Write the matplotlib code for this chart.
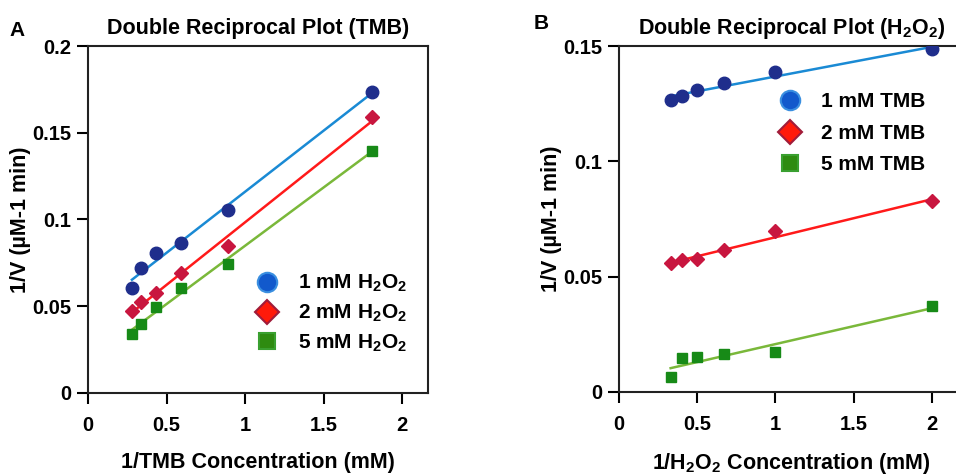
import numpy as np
import matplotlib
matplotlib.use("Agg")
import matplotlib.pyplot as plt
from matplotlib.lines import Line2D

plt.rcParams['font.family'] = ['Liberation Sans', 'DejaVu Sans']
plt.rcParams['font.weight'] = 'bold'
plt.rcParams['mathtext.fontset'] = 'custom'
plt.rcParams['mathtext.rm'] = 'Liberation Sans:bold'
plt.rcParams['mathtext.it'] = 'Liberation Sans:bold'
plt.rcParams['mathtext.bf'] = 'Liberation Sans:bold'
plt.rcParams['mathtext.default'] = 'rm'

#panel A data: 1/[TMB] vs 1/V
x_tmb = [0.28, 0.34, 0.43, 0.59, 0.89, 1.81]
a_h2o2_1 = [0.0607, 0.0719, 0.0805, 0.0866, 0.1055, 0.1737]
a_h2o2_2 = [0.0473, 0.0523, 0.0578, 0.0693, 0.0847, 0.1589]
a_h2o2_5 = [0.0338, 0.0396, 0.0497, 0.0603, 0.0742, 0.1397]
labels_a = ["1 mM H$_2$O$_2$", "2 mM H$_2$O$_2$", "5 mM H$_2$O$_2$"]

#panel B data: 1/[H2O2] vs 1/V
x_h2o2 = [0.33, 0.40, 0.50, 0.67, 1.00, 2.00]
b_tmb_1 = [0.1264, 0.1283, 0.1308, 0.1339, 0.1387, 0.1486]
b_tmb_2 = [0.0559, 0.0571, 0.0575, 0.0614, 0.0697, 0.0827]
b_tmb_5 = [0.0065, 0.0145, 0.0152, 0.0166, 0.0173, 0.0371]
labels_b = ["1 mM TMB", "2 mM TMB", "5 mM TMB"]

markers = ['o', 'D', 's']
msizes = [9, 7.5, 7.5]
point_colors = ['#1f2e8c', '#c8163f', '#178a17']
line_colors = ['#1a8ad4', '#ff1a1a', '#7ab83a']
leg_face = ['#1259cc', '#ff1a0a', '#2e8b10']
leg_edge = ['#3a8fe0', '#a01c3a', '#3aa030']


def draw_panel(ax, x, ys, labels, leg_anchor, spacing):
    for i, y in enumerate(ys):
        k, b = np.polyfit(x, y, 1)
        xx = np.array([min(x), max(x)])
        ax.plot(xx, k * xx + b, color=line_colors[i], lw=1.8, zorder=2)
        ax.plot(x, y, ls='none', marker=markers[i], ms=msizes[i],
                color=point_colors[i], mec=point_colors[i], zorder=3)
    handles = [Line2D([], [], ls='none', marker=markers[i],
                      ms=[14, 12, 11][i], mfc=leg_face[i], mec=leg_edge[i], mew=1.5)
               for i in range(3)]
    ax.legend(handles, labels, loc='upper left', bbox_to_anchor=leg_anchor,
              frameon=False, fontsize=15, handletextpad=0.9, labelspacing=spacing,
              borderaxespad=0, borderpad=0, handlelength=1.2)
    for s in ['left', 'bottom', 'top', 'right']:
        ax.spines[s].set_linewidth(1.5)
        ax.spines[s].set_color('#222222')
    ax.tick_params(direction='out', length=8, width=1.5, labelsize=14.5,
                   top=False, right=False)
    ax.tick_params(axis='y', pad=4)
    ax.tick_params(axis='x', pad=9)
    for t in ax.get_xticklabels() + ax.get_yticklabels():
        t.set_fontweight('bold')


fig = plt.figure(figsize=(9.56, 4.75), dpi=100)

ax1 = fig.add_axes([0.092, 0.173, 0.356, 0.730])
draw_panel(ax1, x_tmb, [a_h2o2_1, a_h2o2_2, a_h2o2_5], labels_a, (0.49, 0.345), 0.4)
ax1.set_xlim(0, 2.166)
ax1.set_ylim(0, 0.2)
ax1.set_xticks([0, 0.5, 1, 1.5, 2])
ax1.set_xticklabels(['0', '0.5', '1', '1.5', '2'])
ax1.set_yticks([0, 0.05, 0.1, 0.15, 0.2])
ax1.set_yticklabels(['0', '0.05', '0.1', '0.15', '0.2'])
ax1.set_title("Double Reciprocal Plot (TMB)", fontsize=15.5, fontweight='bold', pad=9)
ax1.set_xlabel("1/TMB Concentration (mM)", fontsize=15.5, fontweight='bold', labelpad=12)
ax1.set_ylabel("1/V (µM-1 min)", fontsize=15.5, fontweight='bold', labelpad=1)
fig.text(0.010, 0.925, "A", fontsize=15, fontweight='bold')

ax2 = fig.add_axes([0.6475, 0.175, 0.360, 0.728])
draw_panel(ax2, x_h2o2, [b_tmb_1, b_tmb_2, b_tmb_5], labels_b, (0.46, 0.866), 0.6)
ax2.spines['right'].set_visible(False)
ax2.set_xlim(0, 2.2)
ax2.set_ylim(0, 0.15)
ax2.set_xticks([0, 0.5, 1, 1.5, 2])
ax2.set_xticklabels(['0', '0.5', '1', '1.5', '2'])
ax2.set_yticks([0, 0.05, 0.1, 0.15])
ax2.set_yticklabels(['0', '0.05', '0.1', '0.15'])
ax2.set_title("Double Reciprocal Plot (H$_2$O$_2$)", fontsize=15.5, fontweight='bold',
              pad=9)
ax2.set_xlabel("1/H$_2$O$_2$ Concentration (mM)", fontsize=15.5, fontweight='bold',
               labelpad=12)
ax2.set_ylabel("1/V (µM-1 min)", fontsize=15.5, fontweight='bold', labelpad=1)
fig.text(0.558, 0.938, "B", fontsize=15, fontweight='bold')

fig.savefig("out.png", dpi=100)
